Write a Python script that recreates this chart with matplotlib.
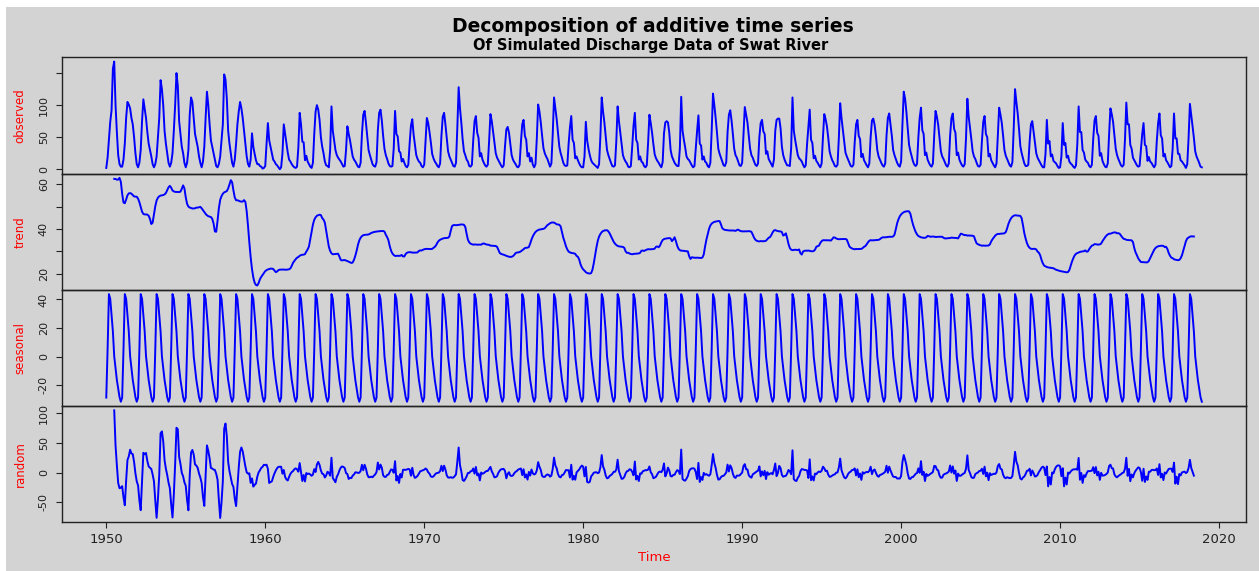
import numpy as np
import matplotlib
matplotlib.use('Agg')
from matplotlib import pyplot as plt
from matplotlib.patches import Rectangle

text_color = (.13, .13, .13)
page_color = '#d3d3d3'
line_color = '#0000ff'
label_color = '#ff0000'

plt.rcParams['font.family'] = 'DejaVu Sans'
plt.rcParams['text.color'] = text_color
plt.rcParams['xtick.color'] = text_color
plt.rcParams['ytick.color'] = text_color

# monthly simulated discharge (Jan..Dec)
start_year = 1950
obs_1950s = [
    [2, 18, 45, 74, 92, 157, 168, 100, 58, 22, 8, 4],
    [4, 15, 40, 80, 105, 101, 95, 80, 70, 50, 25, 8],
    [3, 10, 30, 75, 109, 95, 80, 58, 40, 30, 20, 8],
    [3, 8, 20, 50, 80, 139, 125, 100, 60, 40, 25, 10],
    [4, 10, 25, 60, 100, 150, 130, 75, 55, 35, 25, 10],
    [3, 10, 30, 85, 112, 105, 80, 55, 45, 35, 20, 10],
    [3, 12, 35, 80, 121, 100, 70, 45, 35, 25, 15, 5],
    [3, 8, 20, 45, 70, 148, 140, 110, 60, 40, 25, 10],
    [4, 15, 40, 70, 90, 105, 95, 80, 60, 40, 20, 8],
    [4, 15, 56, 35, 24, 14, 8, 8, 5, 4, 1, 2],
]
obs_1960s = [
    [5, 40, 72, 45, 35, 25, 15, 12, 8, 6, 3, 0],
    [3, 25, 70, 55, 39, 26, 15, 12, 8, 5, 3, 2],
    [4, 34, 88, 70, 43, 42, 14, 21, 12, 8, 4, 2],
    [10, 55, 90, 100, 93, 77, 50, 35, 25, 12, 6, 5],
    [3, 30, 98, 60, 45, 30, 22, 18, 15, 12, 8, 4],
    [5, 30, 67, 55, 45, 33, 20, 15, 12, 8, 4, 3],
    [10, 55, 85, 91, 73, 52, 30, 22, 15, 8, 5, 4],
    [11, 61, 88, 93, 76, 52, 32, 22, 16, 9, 5, 4],
    [5, 33, 91, 55, 51, 28, 26, 12, 16, 10, 5, 3],
    [7, 40, 68, 78, 54, 38, 22, 16, 12, 10, 5, 3],
]
obs_1970s = [
    [7, 43, 80, 72, 58, 42, 24, 17, 12, 9, 5, 3],
    [9, 52, 82, 88, 70, 49, 28, 20, 15, 10, 5, 4],
    [10, 65, 128, 95, 73, 47, 28, 22, 15, 12, 5, 4],
    [7, 45, 75, 83, 57, 49, 20, 25, 15, 10, 6, 4],
    [7, 44, 86, 75, 59, 42, 25, 18, 14, 10, 6, 3],
    [6, 36, 62, 66, 57, 40, 22, 15, 11, 8, 4, 3],
    [7, 42, 70, 77, 52, 46, 20, 25, 12, 18, 7, 3],
    [8, 48, 101, 90, 73, 52, 33, 25, 20, 16, 10, 4],
    [9, 54, 112, 95, 78, 57, 35, 25, 18, 10, 6, 5],
    [6, 39, 65, 83, 46, 41, 17, 20, 14, 9, 5, 3],
]
obs_1980s = [
    [3, 20, 74, 45, 32, 22, 14, 10, 8, 6, 4, 2],
    [8, 52, 112, 90, 73, 52, 30, 22, 16, 10, 5, 4],
    [6, 43, 98, 75, 57, 39, 22, 16, 12, 9, 4, 3],
    [5, 35, 68, 88, 46, 41, 15, 20, 12, 10, 5, 3],
    [6, 41, 85, 72, 57, 39, 23, 17, 13, 10, 6, 3],
    [11, 56, 73, 75, 73, 57, 30, 20, 15, 10, 7, 5],
    [5, 33, 113, 60, 46, 34, 20, 16, 14, 10, 6, 3],
    [5, 33, 60, 84, 40, 37, 15, 20, 12, 10, 5, 3],
    [10, 60, 118, 100, 80, 57, 32, 24, 18, 12, 6, 5],
    [11, 58, 85, 92, 76, 55, 32, 22, 18, 12, 6, 5],
]
obs_1990s = [
    [10, 55, 97, 85, 73, 52, 32, 22, 18, 12, 7, 5],
    [9, 50, 72, 77, 59, 55, 24, 28, 16, 12, 8, 4],
    [15, 60, 77, 79, 79, 64, 35, 22, 15, 10, 6, 6],
    [5, 33, 112, 60, 46, 34, 22, 17, 15, 12, 7, 3],
    [6, 39, 65, 93, 46, 41, 17, 21, 13, 10, 6, 3],
    [9, 50, 86, 78, 67, 49, 28, 20, 14, 10, 5, 4],
    [7, 49, 103, 80, 62, 45, 26, 20, 15, 10, 5, 4],
    [7, 43, 70, 77, 52, 47, 19, 24, 14, 10, 6, 3],
    [9, 50, 76, 79, 69, 52, 30, 20, 15, 10, 6, 4],
    [9, 53, 80, 87, 69, 52, 30, 22, 16, 10, 6, 4],
]
obs_2000s = [
    [12, 70, 121, 110, 89, 64, 38, 28, 20, 12, 7, 5],
    [8, 49, 80, 96, 61, 55, 22, 26, 15, 10, 6, 4],
    [9, 53, 91, 82, 69, 49, 28, 20, 16, 11, 6, 4],
    [9, 53, 80, 87, 63, 57, 22, 26, 15, 10, 6, 4],
    [8, 49, 110, 82, 65, 47, 28, 20, 16, 10, 5, 4],
    [7, 44, 74, 83, 55, 50, 20, 24, 14, 10, 6, 3],
    [9, 54, 96, 85, 72, 52, 30, 21, 16, 11, 6, 4],
    [11, 64, 125, 105, 87, 63, 36, 25, 17, 9, 5, 5],
    [7, 43, 70, 75, 59, 42, 25, 18, 14, 10, 6, 3],
    [3, 24, 77, 40, 44, 20, 23, 13, 11, 9, 5, 2],
]
obs_2010s = [
    [3, 20, 72, 38, 41, 18, 21, 12, 9, 7, 4, 2],
    [6, 39, 98, 58, 58, 30, 26, 15, 12, 10, 5, 3],
    [7, 47, 76, 83, 57, 52, 21, 25, 13, 8, 4, 3],
    [9, 54, 95, 86, 74, 53, 32, 22, 16, 11, 6, 4],
    [7, 47, 104, 70, 70, 38, 32, 18, 14, 10, 6, 4],
    [5, 31, 55, 72, 38, 36, 13, 19, 12, 10, 6, 3],
    [7, 44, 72, 87, 53, 48, 20, 24, 14, 11, 7, 3],
    [5, 33, 87, 48, 48, 24, 24, 14, 12, 9, 6, 2],
    [8, 49, 102, 85, 67, 49, 28, 20, 15, 10, 4, 3],
]

panel_names = ['observed', 'trend', 'seasonal', 'random']
x_ticks = [1950, 1960, 1970, 1980, 1990, 2000, 2010, 2020]
observed_ticks = [0, 50, 100, 150]
observed_labels = ['0', '50', '100', '']
trend_ticks = [20, 30, 40, 50, 60]
trend_labels = ['20', '', '40', '', '60']
seasonal_ticks = [-20, 0, 20, 40]
seasonal_labels = ['-20', '0', '20', '40']
random_ticks = [-50, 0, 50, 100]
random_labels = ['-50', '0', '50', '100']


def decompose(x, period=12):
    # same as R's decompose(type='additive'): centred 2x12 moving average
    n = len(x)
    half = period // 2
    filt = np.r_[0.5, np.ones(period - 1), 0.5] / period
    trend = np.full(n, np.nan)
    trend[half:n - half] = np.convolve(x, filt, mode='valid')
    figure = np.nanmean((x - trend).reshape(-1, period), axis=0)
    figure -= figure.mean()
    seasonal = np.tile(figure, n // period)
    return trend, seasonal, x - trend - seasonal


def plot():
    decades = (obs_1950s, obs_1960s, obs_1970s, obs_1980s, obs_1990s, obs_2000s, obs_2010s)
    observed = np.concatenate([np.ravel(d) for d in decades]).astype(float)
    t = start_year + np.arange(len(observed)) / 12
    trend, seasonal, random = decompose(observed)

    fig, axs = plt.subplots(4, 1, sharex=True, figsize=(12.59, 5.71), dpi=100,
                            gridspec_kw={'hspace': 0})
    fig.subplots_adjust(left=0.0496, right=0.9894, top=0.8997, bottom=0.0853)
    fig.patch.set_facecolor('white')
    fig.add_artist(Rectangle((6 / 1259, 0), 1, 564 / 571, transform=fig.transFigure,
                             facecolor=page_color, edgecolor='none', zorder=-10))

    fig.text(0.5187, 0.953, 'Decomposition of additive time series',
             ha='center', va='center', fontsize=13.5, fontweight='bold', color='black')
    fig.text(0.517, 0.921, 'Of Simulated Discharge Data of Swat River',
             ha='center', va='center', fontsize=10.5, fontweight='bold', color='black')

    series = [observed, trend, seasonal, random]
    ticks = [observed_ticks, trend_ticks, seasonal_ticks, random_ticks]
    labels = [observed_labels, trend_labels, seasonal_labels, random_labels]

    span = t[-1] - t[0]
    for ax, name, y, tk, lb in zip(axs, panel_names, series, ticks, labels):
        ax.set_facecolor('none')
        ax.plot(t, y, color=line_color, lw=1.4)
        lo, hi = np.nanmin(y), np.nanmax(y)
        pad = 0.04 * (hi - lo)
        ax.set_ylim(lo - pad, hi + pad)
        ax.set_yticks(tk, labels=lb)
        for lab in ax.get_yticklabels():
            lab.set_rotation(90)
            lab.set_va('center')
        ax.tick_params(axis='y', direction='out', length=4.3, width=0.8,
                       labelsize=8, pad=5.5, colors=text_color)
        ax.set_ylabel(name, color=label_color, fontsize=8.5)
        ax.yaxis.set_label_coords(-0.0359, 0.5)
        ax.yaxis.label.set_va('center')
        for sp in ax.spines.values():
            sp.set_color(text_color)
            sp.set_linewidth(1.0)
        ax.tick_params(axis='x', bottom=False, labelbottom=False)

    bottom = axs[-1]
    bottom.set_xlim(t[0] - 0.04 * span, t[-1] + 0.04 * span)
    bottom.set_xticks(x_ticks)
    bottom.tick_params(axis='x', bottom=True, labelbottom=True, direction='out',
                       length=4.3, width=0.8, labelsize=9.5, pad=3.5, colors=text_color)
    bottom.set_xlabel('Time', color=label_color, fontsize=9.5)
    bottom.xaxis.set_label_coords(0.5, -0.307)
    bottom.xaxis.label.set_va('center')
    return fig


if __name__ == '__main__':
    fig = plot()
    fig.savefig('out.png', dpi=100)
